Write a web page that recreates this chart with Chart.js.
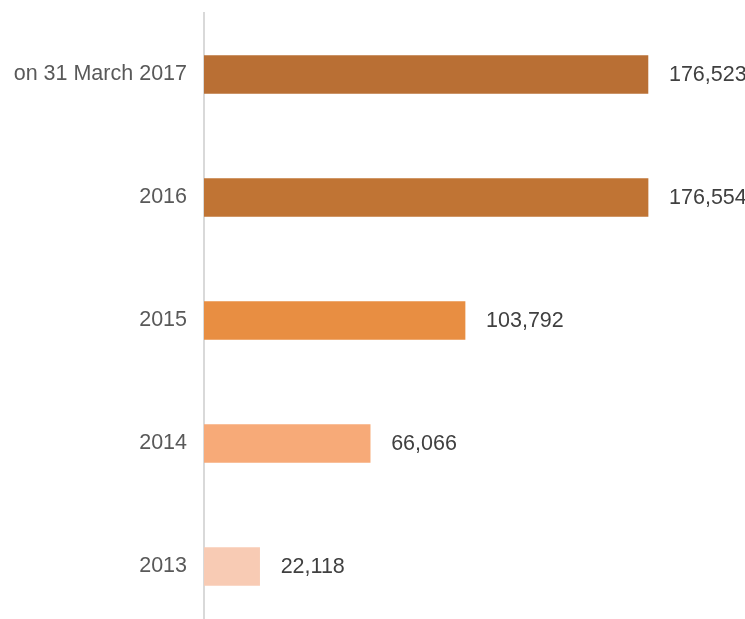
<!DOCTYPE html>
<html>
<head>
<meta charset="utf-8">
<script src="https://cdn.jsdelivr.net/npm/chart.js@4/dist/chart.umd.min.js"></script>
<style>
  html, body { margin: 0; padding: 0; background: #fff; overflow: hidden; }
</style>
</head>
<body>
<canvas id="barChart" width="745" height="640"></canvas>
<script>
// Chart data, top to bottom
const categories = ["on 31 March 2017", "2016", "2015", "2014", "2013"];
const values = [176523, 176554, 103792, 66066, 22118];
const barColors = ["#b96f34", "#c07434", "#e88e42", "#f7aa78", "#f8cbb4"];

// Draw value labels to the right of each bar
const valueLabels = {
  id: "valueLabels",
  afterDatasetsDraw(chart) {
    const ctx = chart.ctx;
    const meta = chart.getDatasetMeta(0);
    ctx.save();
    ctx.font = '21.5px "Liberation Sans", Arial, sans-serif';
    ctx.fillStyle = "#404040";
    ctx.textAlign = "left";
    ctx.textBaseline = "middle";
    meta.data.forEach(function (bar, i) {
      ctx.fillText(values[i].toLocaleString("en-US"), bar.x + 21, bar.y + 1);
    });
    ctx.restore();
  },
};

new Chart(document.getElementById("barChart").getContext("2d"), {
  type: "bar",
  data: {
    labels: categories,
    datasets: [
      {
        data: values,
        backgroundColor: barColors,
        barThickness: 38,
      },
    ],
  },
  options: {
    indexAxis: "y",
    responsive: false,
    animation: false,
    layout: {
      padding: { top: 13, right: 38, bottom: 12, left: 0 },
    },
    plugins: {
      legend: { display: false },
      tooltip: { enabled: false },
    },
    scales: {
      x: {
        display: false,
        min: 0,
        max: 200000,
      },
      y: {
        afterFit(scale) {
          // fixed label column, no extra label padding above/below
          scale.width = 204;
          scale.paddingTop = 0;
          scale.paddingBottom = 0;
        },
        grid: { display: false, drawTicks: false },
        border: { display: true, color: "#d9d9d9", width: 2 },
        ticks: {
          padding: 17,
          color: "#595959",
          font: { family: '"Liberation Sans", Arial, sans-serif', size: 21.5 },
        },
      },
    },
  },
  plugins: [valueLabels],
});
</script>
</body>
</html>
